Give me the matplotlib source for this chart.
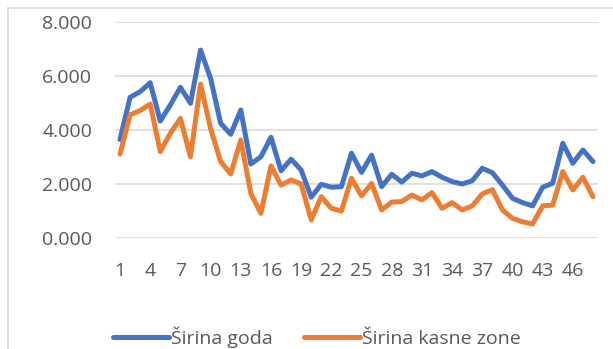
import matplotlib
matplotlib.use("Agg")
import matplotlib.pyplot as plt
from matplotlib.lines import Line2D

# Measurement index 1..48
positions = list(range(1, 49))

sirina_goda = [
    3.65, 5.21, 5.42, 5.75, 4.33, 4.93, 5.58, 4.99, 6.96, 5.91,
    4.25, 3.84, 4.74, 2.74, 3.01, 3.73, 2.49, 2.92, 2.52, 1.51,
    1.99, 1.88, 1.90, 3.14, 2.43, 3.07, 1.90, 2.36, 2.07, 2.40,
    2.30, 2.46, 2.25, 2.09, 2.00, 2.12, 2.58, 2.42, 1.96, 1.47,
    1.31, 1.19, 1.88, 2.03, 3.51, 2.77, 3.26, 2.83,
]

sirina_kasne_zone = [
    3.11, 4.56, 4.72, 4.96, 3.20, 3.88, 4.43, 3.01, 5.70, 4.05,
    2.83, 2.37, 3.63, 1.65, 0.91, 2.67, 1.96, 2.15, 2.00, 0.67,
    1.53, 1.10, 1.00, 2.21, 1.56, 2.02, 1.04, 1.33, 1.35, 1.59,
    1.41, 1.68, 1.10, 1.31, 1.04, 1.19, 1.63, 1.79, 1.04, 0.73,
    0.60, 0.52, 1.19, 1.22, 2.46, 1.78, 2.25, 1.53,
]

series_names = ["Širina goda", "Širina kasne zone"]
series_colors = ["#4472C4", "#ED7D31"]

y_ticks = [0, 2, 4, 6, 8]
x_tick_positions = positions[::3]

TEXT_COLOR = "#595959"
GRID_COLOR = "#D9D9D9"
FONT = ["Open Sans", "DejaVu Sans"]
FS = 14

plt.rcParams["font.family"] = FONT

W, H = 613, 349
fig = plt.figure(figsize=(W / 100, H / 100), dpi=100)

# plot area in pixel coordinates
left, right, top, bottom = 115, 598, 22, 238
ax = fig.add_axes([left / W, (H - bottom) / H, (right - left) / W, (bottom - top) / H])

for vals, name, col in zip([sirina_goda, sirina_kasne_zone], series_names, series_colors):
    ax.plot(positions, vals, color=col, lw=3.6, label=name,
            solid_capstyle="round", solid_joinstyle="round", zorder=3)

ax.set_xlim(0.5, 48.5)
ax.set_ylim(0, 8)
ax.set_yticks(y_ticks)
ax.set_yticklabels([f"{v:.3f}" for v in y_ticks])
ax.set_xticks(x_tick_positions)
ax.set_xticklabels([str(p) for p in x_tick_positions])

ax.grid(axis="y", color=GRID_COLOR, lw=1.1, zorder=0)
ax.grid(axis="x", visible=False)
for s in ax.spines.values():
    s.set_visible(False)
ax.tick_params(axis="both", length=0, labelsize=FS, labelcolor=TEXT_COLOR)
ax.tick_params(axis="y", pad=16.5)
ax.tick_params(axis="x", pad=17)

# chart area border (left and top edges)
fig.add_artist(Line2D([8 / W, 8 / W], [0, (H - 8) / H], transform=fig.transFigure,
                      color=GRID_COLOR, lw=1.2))
fig.add_artist(Line2D([8 / W, 1], [(H - 8) / H, (H - 8) / H], transform=fig.transFigure,
                      color=GRID_COLOR, lw=1.2))

fig.legend(loc="center", bbox_to_anchor=(317 / W, 12 / H), ncol=2, frameon=False,
           fontsize=FS, labelcolor=TEXT_COLOR, handlelength=2.9, handletextpad=0.1,
           columnspacing=1.6, borderpad=0, borderaxespad=0)

fig.savefig("out.png", dpi=100)
